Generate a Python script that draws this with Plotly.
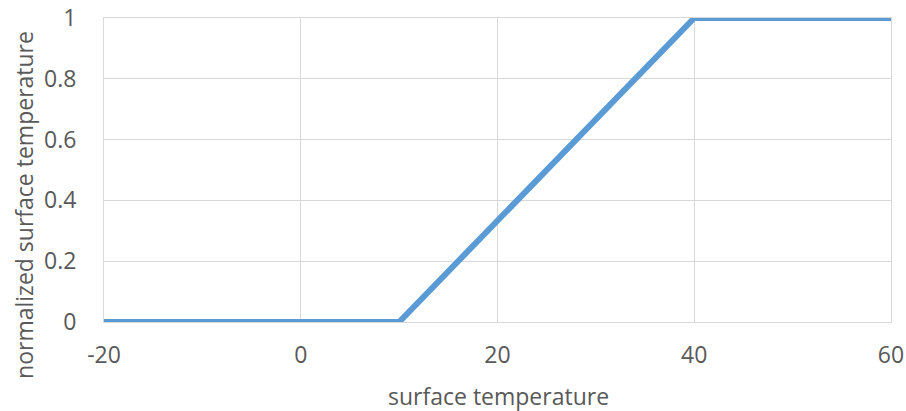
import plotly.graph_objects as go

temp = [-20, 10, 40, 60]
norm = [0, 0, 1, 1]
x_ticks = [-20, 0, 20, 40, 60]
x_labels = ["-20", "0", "20", "40", "60"]
y_ticks = [0, 0.2, 0.4, 0.6, 0.8, 1]
y_labels = ["0", "0.2", "0.4", "0.6", "0.8", "1"]

fig = go.Figure()
fig.add_trace(go.Scatter(x=temp, y=norm, mode="lines",
                         line=dict(color="#5B9BD5", width=6), cliponaxis=False))

font = dict(family="Open Sans, sans-serif", size=23, color="#595959")
fig.update_layout(
    width=906, height=411,
    margin=dict(l=104, r=15, t=18, b=89),
    paper_bgcolor="white", plot_bgcolor="white",
    showlegend=False,
    font=font,
    xaxis=dict(range=[-20, 60], tickvals=x_ticks, ticktext=x_labels, showgrid=True,
               gridcolor="#D9D9D9", gridwidth=1, automargin=False,
               zeroline=False, showline=True, linecolor="#D9D9D9", mirror=True,
               ticks="", ticklabelstandoff=12),
    yaxis=dict(range=[0, 1], tickvals=y_ticks, ticktext=y_labels, showgrid=True,
               gridcolor="#D9D9D9", automargin=False,
               zeroline=False, showline=True, linecolor="#D9D9D9", mirror=True,
               ticks="", ticklabelstandoff=22),
    annotations=[
        dict(text="surface temperature", xref="paper", yref="paper", x=0.5013, y=-0.243,
             xanchor="center", yanchor="middle", showarrow=False, font=font),
        dict(text="normalized surface temperature", xref="paper", yref="paper", x=-0.1017, y=0.385,
             xanchor="center", yanchor="middle", textangle=-90, showarrow=False, font=font),
    ],
)
fig.write_html("out.html")
